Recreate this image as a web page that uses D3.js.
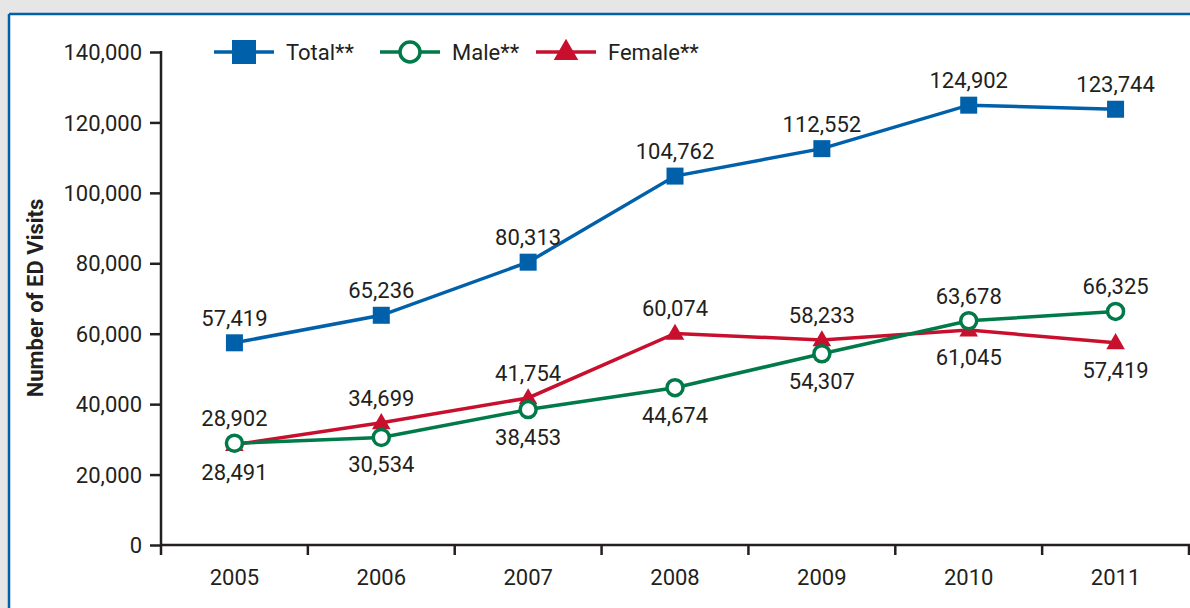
<!DOCTYPE html>
<html>
<head>
<meta charset="utf-8">
<script src="https://cdn.jsdelivr.net/npm/d3@7"></script>
<style>
  body { margin: 0; background: #e6e6e6; }
  svg text { font-family: Roboto, "DejaVu Sans Condensed", sans-serif; fill: #231f20; }
</style>
</head>
<body>
<script>
var years = ["2005", "2006", "2007", "2008", "2009", "2010", "2011"];
var totalVisits = [57419, 65236, 80313, 104762, 112552, 124902, 123744];
var maleVisits = [28902, 30534, 38453, 44674, 54307, 63678, 66325];
var femaleVisits = [28491, 34699, 41754, 60074, 58233, 61045, 57419];
var yTicks = [0, 20000, 40000, 60000, 80000, 100000, 120000, 140000];
var seriesNames = ["Total**", "Male**", "Female**"];

// which side each value label sits on (1 = above, -1 = below)
var maleSide = [1, -1, -1, -1, -1, 1, 1];
var femaleSide = [-1, 1, 1, 1, 1, -1, -1];

var outerWidth = 1190;
var outerHeight = 608;
var blue = "#0060a9", green = "#007a48", red = "#c8102e";
var fmt = d3.format(",");
var fontSize = "22px";

var svg = d3.select("body").append("svg")
    .attr("width", outerWidth)
    .attr("height", outerHeight)
    .style("display", "block");

// frame
svg.append("rect").attr("x", 9).attr("y", 14).attr("width", outerWidth).attr("height", outerHeight)
    .attr("fill", "#fff");
svg.append("line").attr("x1", 9).attr("x2", outerWidth).attr("y1", 14).attr("y2", 14)
    .attr("stroke", blue).attr("stroke-width", 2.5);
svg.append("line").attr("x1", 9).attr("x2", 9).attr("y1", 14).attr("y2", outerHeight)
    .attr("stroke", blue).attr("stroke-width", 2.5);

var x = d3.scaleBand().domain(years).range([161, 1189]);
var y = d3.scaleLinear().domain([0, 140000]).range([545, 52]);
var cx = function(i) { return x(years[i]) + x.bandwidth() / 2; };

// y axis
var yAxis = svg.append("g")
    .attr("transform", "translate(161,0)")
    .call(d3.axisLeft(y).tickValues(yTicks).tickSize(11).tickPadding(8).tickFormat(fmt));
yAxis.select(".domain").remove();
yAxis.selectAll("line").attr("stroke", "#231f20").attr("stroke-width", 2.5);
yAxis.selectAll("text").style("font-size", fontSize).attr("dy", "0.35em");
svg.append("line").attr("x1", 161).attr("x2", 161).attr("y1", y(140000) - 1).attr("y2", y(0) + 10)
    .attr("stroke", "#231f20").attr("stroke-width", 2.5);

// x axis
svg.append("line").attr("x1", 161).attr("x2", outerWidth).attr("y1", y(0)).attr("y2", y(0))
    .attr("stroke", "#231f20").attr("stroke-width", 2.5);
var bounds = years.map(function(d) { return x(d); }).concat([x.range()[1]]);
svg.selectAll(".xtick").data(bounds.slice(1)).enter().append("line")
    .attr("x1", function(d) { return d; }).attr("x2", function(d) { return d; })
    .attr("y1", y(0)).attr("y2", y(0) + 10)
    .attr("stroke", "#231f20").attr("stroke-width", 2.5);
var xAxis = svg.append("g")
    .attr("transform", "translate(0," + y(0) + ")")
    .call(d3.axisBottom(x).tickSize(0).tickPadding(24));
xAxis.select(".domain").remove();
xAxis.selectAll("text").style("font-size", fontSize);

// y title
svg.append("text")
    .attr("transform", "translate(43,298) rotate(-90)")
    .attr("text-anchor", "middle")
    .style("font-size", "22px").style("font-weight", "bold")
    .text("Number of ED Visits");

var line = d3.line().x(function(d, i) { return cx(i); }).y(function(d) { return y(d); });

function drawLine(vals, color) {
    svg.append("path").datum(vals).attr("d", line)
        .attr("fill", "none").attr("stroke", color).attr("stroke-width", 3.5);
}
drawLine(totalVisits, blue);
drawLine(femaleVisits, red);
drawLine(maleVisits, green);

var tri = d3.symbol().type(d3.symbolTriangle);

svg.selectAll(".fem").data(femaleVisits).enter().append("path")
    .attr("d", tri.size(150)())
    .attr("transform", function(d, i) { return "translate(" + cx(i) + "," + (y(d) + 1) + ")"; })
    .attr("fill", red);
svg.selectAll(".male").data(maleVisits).enter().append("circle")
    .attr("cx", function(d, i) { return cx(i); }).attr("cy", function(d) { return y(d); })
    .attr("r", 8).attr("fill", "#fff").attr("stroke", green).attr("stroke-width", 3.5);
svg.selectAll(".tot").data(totalVisits).enter().append("rect")
    .attr("x", function(d, i) { return cx(i) - 8.5; }).attr("y", function(d) { return y(d) - 8.5; })
    .attr("width", 17).attr("height", 17).attr("fill", blue);

function labels(vals, side) {
    svg.append("g").selectAll("text").data(vals).enter().append("text")
        .attr("x", function(d, i) { return cx(i); })
        .attr("y", function(d, i) { return side[i] > 0 ? y(d) - 17 : y(d) + 35; })
        .attr("text-anchor", "middle")
        .style("font-size", fontSize)
        .text(fmt);
}
labels(totalVisits, totalVisits.map(function() { return 1; }));
labels(maleVisits, maleSide);
labels(femaleVisits, femaleSide);

// legend
var legendX = [214, 380, 536];
var legendColors = [blue, green, red];
var legend = svg.selectAll(".legend").data(seriesNames).enter().append("g")
    .attr("transform", function(d, i) { return "translate(" + legendX[i] + ",52)"; });
legend.append("line").attr("x1", 0).attr("x2", 60).attr("stroke-width", 3.5)
    .attr("stroke", function(d, i) { return legendColors[i]; });
legend.each(function(d, i) {
    var g = d3.select(this);
    if (i == 0) g.append("rect").attr("x", 18).attr("y", -12).attr("width", 24).attr("height", 24).attr("fill", blue);
    if (i == 1) g.append("circle").attr("cx", 30).attr("r", 10).attr("fill", "#fff").attr("stroke", green).attr("stroke-width", 3.5);
    if (i == 2) g.append("path").attr("d", tri.size(260)()).attr("transform", "translate(30,1)").attr("fill", red);
});
legend.append("text").attr("x", 72).attr("dy", "0.35em")
    .style("font-size", fontSize)
    .text(function(d) { return d; });
</script>
</body>
</html>
